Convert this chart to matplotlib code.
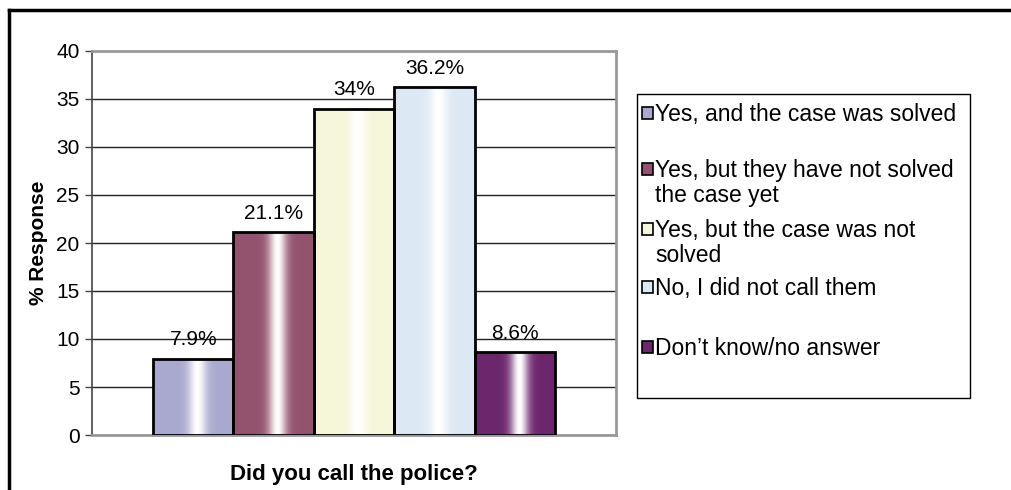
import numpy as np
import matplotlib
matplotlib.use("Agg")
import matplotlib.pyplot as plt
from matplotlib.colors import to_rgb
from matplotlib.patches import Rectangle
from matplotlib.lines import Line2D

plt.rcParams['font.family'] = ['Liberation Sans', 'DejaVu Sans']

labels = ['Yes, and the case was solved',
          'Yes, but they have not solved\nthe case yet',
          'Yes, but the case was not\nsolved',
          'No, I did not call them',
          'Don\u2019t know/no answer']
values = [7.9, 21.1, 34, 36.2, 8.6]
value_text = ['7.9%', '21.1%', '34%', '36.2%', '8.6%']
colors = ['#A9A9CF', '#93536F', '#F6F6DA', '#DCE9F5', '#6C276C']
yticks = [0, 5, 10, 15, 20, 25, 30, 35, 40]

fig = plt.figure(figsize=(10.12, 4.9), dpi=100)
ax = fig.add_axes([92 / 1012, 55 / 490, 524 / 1012, 384 / 490])

x = np.arange(len(values))
bars = ax.bar(x, values, width=1.0, color='none', edgecolor='black', linewidth=2, zorder=3)

# cylinder-like shading: colour at the edges, white stripe near the middle
u = np.linspace(0, 1, 200)
glow = np.exp(-((u - 0.55) / 0.11) ** 2)
for b, c in zip(bars, colors):
    base = np.array(to_rgb(c))
    img = base[None, :] * (1 - glow[:, None]) + glow[:, None]
    x0, w, h = b.get_x(), b.get_width(), b.get_height()
    im = ax.imshow(img[None, :, :], extent=[x0, x0 + w, 0, h], aspect='auto', zorder=2)
    im.set_clip_path(b)

for b, t in zip(bars, value_text):
    ax.annotate(t, (b.get_x() + b.get_width() / 2, b.get_height()), xytext=(0, 7),
                textcoords='offset points', ha='center', va='bottom', fontsize=15)

ax.set_xlim(-1.26, 5.26)
ax.set_ylim(0, 40)
ax.set_yticks(yticks)
ax.set_xticks([])
ax.yaxis.grid(True, color='#222222', linewidth=1)
ax.set_axisbelow(True)
ax.tick_params(axis='y', direction='out', length=5, width=1, color='#444444', labelsize=15, pad=4)
for side in ['top', 'right', 'bottom']:
    ax.spines[side].set_color('#999999')
    ax.spines[side].set_linewidth(2)
ax.spines['left'].set_color('#444444')
ax.spines['left'].set_linewidth(1.2)

ax.set_ylabel('% Response', fontsize=15, fontweight='bold', labelpad=6)
ax.set_xlabel('Did you call the police?', fontsize=16, fontweight='bold', labelpad=21)

# hand-placed legend box, laid out like the original
W, H = 1012, 490
fig.add_artist(Rectangle((637 / W, 1 - 398 / H), 333 / W, 304 / H, transform=fig.transFigure,
                         facecolor='white', edgecolor='black', linewidth=1))
entry_y = [113, 169, 229, 287, 347]
for lab, c, yy in zip(labels, colors, entry_y):
    fig.add_artist(Rectangle((642 / W, 1 - (yy + 6) / H), 11 / W, 12 / H, transform=fig.transFigure,
                             facecolor=c, edgecolor='black', linewidth=1.2))
    fig.text(655 / W, 1 - (yy - 10) / H, lab, fontsize=16.5, va='top', ha='left', linespacing=1.12)

# outer frame (left and top edges visible)
fig.add_artist(Line2D([8.5 / W, 8.5 / W], [0, 1 - 10.5 / H], color='black', linewidth=2.5,
                      transform=fig.transFigure))
fig.add_artist(Line2D([8.5 / W, 1], [1 - 10.5 / H, 1 - 10.5 / H], color='black', linewidth=2.5,
                      transform=fig.transFigure))

fig.savefig('out.png', dpi=100)
